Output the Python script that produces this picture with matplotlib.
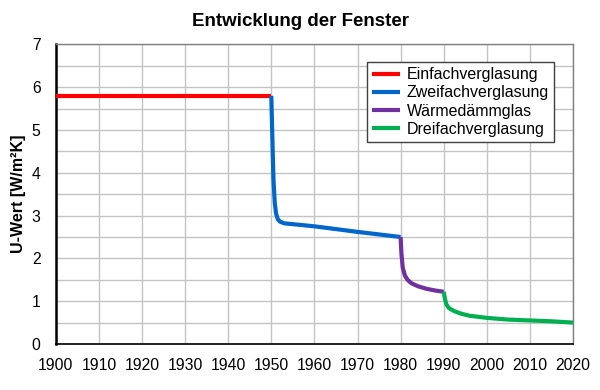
import matplotlib
matplotlib.use("Agg")
import matplotlib.pyplot as plt
from matplotlib.ticker import MultipleLocator

plt.rcParams['font.family'] = ['Liberation Sans', 'DejaVu Sans']

title = "Entwicklung der Fenster"
ylabel = "U-Wert [W/m²K]"

series_names = ["Einfachverglasung", "Zweifachverglasung", "Wärmedämmglas", "Dreifachverglasung"]
colors = ["#FF0000", "#0066CC", "#7030A0", "#00B050"]

einfach_years = [1900, 1950]
einfach_u = [5.8, 5.8]

zweifach_years = [1950, 1950.3, 1950.5, 1950.8, 1951.1, 1951.5, 1952, 1953, 1960, 1970, 1980]
zweifach_u = [5.8, 4.6, 3.85, 3.3, 3.05, 2.92, 2.86, 2.82, 2.75, 2.62, 2.5]

waerme_years = [1980, 1980.2, 1980.5, 1981, 1981.6, 1982.5, 1984, 1986, 1988, 1990]
waerme_u = [2.5, 2.1, 1.78, 1.6, 1.5, 1.42, 1.35, 1.29, 1.25, 1.22]

dreifach_years = [1990, 1990.3, 1990.6, 1991.2, 1992.4, 1994, 1996, 2000, 2005, 2010, 2015, 2020]
dreifach_u = [1.22, 1.05, 0.93, 0.84, 0.77, 0.71, 0.66, 0.61, 0.57, 0.55, 0.53, 0.5]

x_ticks = list(range(1900, 2021, 10))
y_ticks = list(range(0, 8))

fig = plt.figure(figsize=(6, 3.9), dpi=100)
ax = fig.add_axes([0.093, 0.118, 0.862, 0.768])

data = [(einfach_years, einfach_u), (zweifach_years, zweifach_u),
        (waerme_years, waerme_u), (dreifach_years, dreifach_u)]
for (xs, ys), name, c in zip(data, series_names, colors):
    ax.plot(xs, ys, color=c, lw=3, label=name, solid_capstyle='butt', solid_joinstyle='round', zorder=3)

ax.set_xlim(1900, 2020)
ax.set_ylim(0, 7)
ax.set_xticks(x_ticks)
ax.set_yticks(y_ticks)
ax.yaxis.set_minor_locator(MultipleLocator(0.5))
ax.grid(True, which='major', color='#C4C4C4', lw=1)
ax.grid(True, which='minor', axis='y', color='#C4C4C4', lw=1)
ax.tick_params(which='both', length=0, labelsize=11.3)
ax.tick_params(axis='x', pad=10)
ax.tick_params(axis='y', pad=11)

for s in ['top', 'right']:
    ax.spines[s].set_color('#808080')
    ax.spines[s].set_linewidth(1)
ax.spines['left'].set_color('black')
ax.spines['left'].set_linewidth(1.8)
ax.spines['bottom'].set_color('black')
ax.spines['bottom'].set_linewidth(1.2)

ax.set_ylabel(ylabel, fontsize=11.5, fontweight='bold', labelpad=4)
fig.text(0.5, 0.945, title, ha='center', va='center', fontsize=13.5, fontweight='bold')

leg = ax.legend(loc='upper right', bbox_to_anchor=(0.963, 0.94), fontsize=11.5,
                frameon=True, fancybox=False, edgecolor='#404040', framealpha=1,
                handlelength=1.8, handletextpad=0.4, labelspacing=0.2,
                borderpad=0.3, borderaxespad=0)
leg.get_frame().set_linewidth(1)

fig.savefig("out.png", dpi=100)
